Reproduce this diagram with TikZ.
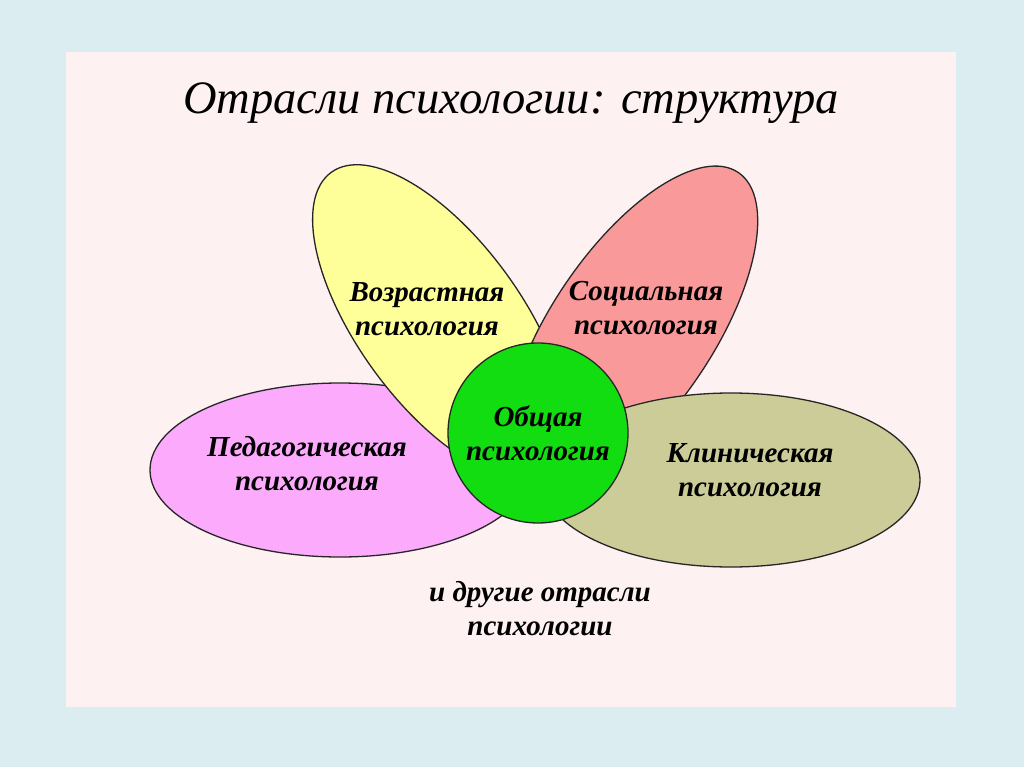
\documentclass[tikz,border=0pt]{standalone}
\usepackage{fontspec}
\setmainfont{Liberation Serif}
\definecolor{bgblue}{RGB}{220,237,242}
\definecolor{slide}{RGB}{253,241,241}
\definecolor{cyellow}{RGB}{255,255,153}
\definecolor{csalmon}{RGB}{250,153,153}
\definecolor{cpink}{RGB}{252,170,252}
\definecolor{colive}{RGB}{204,204,153}
\definecolor{cgreen}{RGB}{17,221,17}
\tikzset{
  petal/.style={draw=black!85, line width=1.3pt},
  lbl/.style={align=center, inner sep=0pt, font=\fontsize{29}{34}\selectfont\bfseries\itshape},
  ttl/.style={inner sep=0pt, font=\fontsize{46.5}{50}\selectfont\itshape}
}
\begin{document}
\begin{tikzpicture}[x=1pt,y=-1pt]
\useasboundingbox (0,0) rectangle (1024,767);
\fill[bgblue] (0,0) rectangle (1024,767);
\fill[slide] (66,52) rectangle (956,707);
\node[ttl] (title) at (511,103) {Отрасли психологии: структура};
% petals
\filldraw[petal, fill=cpink] (340,470) ellipse (190 and 87);
\filldraw[petal, fill=cyellow, rotate around={-54:(440,322)}] (440,322) ellipse (185 and 82);
\filldraw[petal, fill=csalmon, rotate around={56:(632,330)}] (632,330) ellipse (190 and 81);
\filldraw[petal, fill=colive] (731,480) ellipse (189 and 87);
\filldraw[petal, fill=cgreen] (538,433) circle (90);
% labels
\node[lbl] (voz) at (427,309) {Возрастная\\психология};
\node[lbl] (soc) at (646,308) {Социальная\\психология};
\node[lbl] (ped) at (307,464) {Педагогическая\\психология};
\node[lbl] (klin) at (750,470) {Клиническая\\психология};
\node[lbl] (obsh) at (538,433) {Общая\\психология};
\node[lbl] (other) at (540,609) {и другие отрасли\\психологии};
\end{tikzpicture}
\end{document}
